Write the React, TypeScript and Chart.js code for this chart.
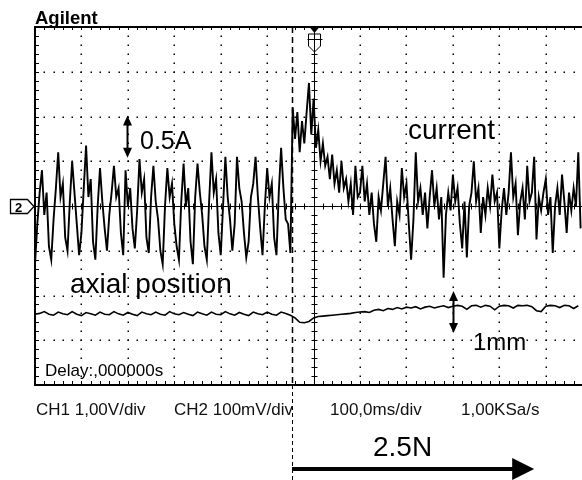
import React, { useEffect, useRef } from "react";
import { Chart, registerables } from "chart.js";

Chart.register(...registerables);

// ---------------- data ----------------
// time axis (ms, trigger at 0), 100 ms per division
const X_MIN = -600;
const X_MAX = 578;
const Y_MIN = -4;
const Y_MAX = 4;
const START_MS = -600;
const CURRENT_STEP_MS = 5;
const AXIAL_STEP_MS = 10;
const LOAD_STEP_MS = -46; // dashed marker: 2.5N load applied

// CH1 current trace (divisions), before the load step
const CURRENT_BEFORE = [
  -1.3, -0.4, 0.3, 0.8, -0.2, 0.3, -0.9, -1.2, -0.3, 0.4,
  1.2, 0.2, 0.5, -0.7, -1.0, 0.1, 1.0, 0.3, -0.4, -1.1,
  -0.6, 0.4, 1.35, 0.2, 0.6, -0.8, -1.2, 0.0, 0.85, 0.1,
  -0.5, -1.0, -0.2, 0.3, 0.9, 0.2, 0.4, -0.6, -1.1, 0.8,
  0.0, 0.4, -0.5, -0.95, -0.1, 1.05, 0.3, 0.6, -0.7, -1.05,
  0.2, 0.9, 0.1, -0.3, -1.0, -1.3, 0.0, 0.85, 0.2, 0.5,
  -0.4, -0.9, -1.2, 0.1, 0.95, 0.0, 0.4, -0.8, -1.3, 0.2,
  0.95, 0.3, -0.2, -0.9, -1.2, 0.1, 1.2, 0.3, 0.6, -0.6,
  -1.1, 0.0, 1.1, 0.2, -0.3, -1.0, -0.4, 1.1, 0.4, 0.1,
  -0.6, -1.15, -0.8, 0.2, 0.5, 1.1, 0.2, -0.5, -1.1, 0.0,
  0.85, 0.2, 0.5, -0.7, -1.1, 0.3, 1.3, 0.4, -0.3, -0.4, -1.05,
];

// CH1 current trace (divisions), after the load step
const CURRENT_AFTER = [
  2.2, 1.5, 2.1, 1.2, 1.9, 1.4, 2.1, 2.75, 1.6, 2.4,
  1.3, 1.7, 1.0, 1.4, 0.9, 1.1, 0.6, 1.15, 0.5, 0.8,
  0.3, 1.0, 0.4, 0.6, 0.1, 0.5, -0.2, 0.9, 0.2, 0.3,
  0.9, 0.1, 0.5, -0.2, 0.3, -0.4, -0.8, 0.2, -0.1, 0.5,
  1.1, 0.0, 0.4, -0.3, -0.9, 0.1, -0.2, 0.85, 0.2, 0.5,
  -0.4, -1.2, -0.3, 1.2, 0.1, 0.4, -0.2, 0.3, -0.5, 0.2,
  0.8, 0.0, 0.4, -0.3, 0.2, -1.6, -0.2, 0.3, -0.1, 0.7,
  0.1, 0.4, -0.4, -0.95, 0.1, -1.15, 0.0, 0.3, 1.0, 0.1,
  0.4, -0.6, 0.2, -0.2, 0.4, 0.0, 0.7, 0.1, 0.3, -0.95,
  -0.1, 0.4, -0.2, 0.3, 1.2, 0.2, 0.5, -0.65, 0.1, 0.4,
  -0.3, 0.9, 0.1, 0.3, 1.1, -0.75, 0.2, -0.1, 0.3, 0.6,
  -0.2, 0.2, -1.05, 0.0, 0.4, -0.2, 0.7, 0.1, -0.6, 0.3,
  -0.1, 0.4, 0.0, 1.2, -0.5,
];

// CH2 axial position trace (divisions), before the load step
const AXIAL_BEFORE = [
  -2.42, -2.40, -2.36, -2.42, -2.44, -2.37, -2.41, -2.43, -2.36, -2.42,
  -2.45, -2.38, -2.41, -2.44, -2.37, -2.42, -2.43, -2.36, -2.41, -2.44,
  -2.38, -2.42, -2.45, -2.37, -2.41, -2.43, -2.37, -2.42, -2.44, -2.36,
  -2.41, -2.43, -2.38, -2.42, -2.45, -2.37, -2.41, -2.44, -2.37, -2.42,
  -2.43, -2.36, -2.41, -2.44, -2.38, -2.42, -2.45, -2.37, -2.41, -2.43,
  -2.37, -2.42, -2.44, -2.37, -2.40, -2.44,
];

// CH2 axial position trace (divisions), after the load step
const AXIAL_AFTER = [
  -2.50, -2.60, -2.61, -2.58, -2.50, -2.47, -2.46, -2.45, -2.44, -2.43,
  -2.42, -2.41, -2.40, -2.38, -2.37, -2.36, -2.38, -2.33, -2.31, -2.34,
  -2.29, -2.31, -2.27, -2.30, -2.26, -2.28, -2.25, -2.30, -2.26, -2.24,
  -2.28, -2.25, -2.23, -2.27, -2.24, -2.22, -2.24, -2.31, -2.23, -2.22,
  -2.26, -2.22, -2.24, -2.32, -2.24, -2.22, -2.23, -2.28, -2.22, -2.23,
  -2.22, -2.25, -2.34, -2.36, -2.24, -2.22, -2.23, -2.27, -2.22, -2.23,
  -2.29, -2.23,
];

const X_DIVISIONS_MS = [-600, -500, -400, -300, -200, -100, 0, 100, 200, 300, 400, 500];
const Y_DIVISIONS = [-4, -3, -2, -1, 0, 1, 2, 3, 4];
const SETTINGS_LABELS = ["CH1 1,00V/div", "CH2 100mV/div", "100,0ms/div", "1,00KSa/s"];
const TRACE_LABELS = ["current", "axial position"];
const SCALE_LABELS = ["0.5A", "1mm", "2.5N"];

// ---------------- helpers ----------------
const FONT = '"Liberation Sans", Arial, Helvetica, sans-serif';

function toPoints(values: number[], start: number, step: number) {
  return values.map((v, i) => ({ x: start + i * step, y: v }));
}

const currentValues = [...CURRENT_BEFORE, ...CURRENT_AFTER];
const axialValues = [...AXIAL_BEFORE, ...AXIAL_AFTER];

function doubleArrow(ctx: CanvasRenderingContext2D, x: number, y1: number, y2: number) {
  const top = Math.min(y1, y2);
  const bot = Math.max(y1, y2);
  ctx.save();
  ctx.strokeStyle = "#000";
  ctx.fillStyle = "#000";
  ctx.lineWidth = 2;
  ctx.beginPath();
  ctx.moveTo(x, top + 6);
  ctx.lineTo(x, bot - 6);
  ctx.stroke();
  ctx.beginPath();
  ctx.moveTo(x, top);
  ctx.lineTo(x - 4.5, top + 10);
  ctx.lineTo(x + 4.5, top + 10);
  ctx.closePath();
  ctx.fill();
  ctx.beginPath();
  ctx.moveTo(x, bot);
  ctx.lineTo(x - 4.5, bot - 10);
  ctx.lineTo(x + 4.5, bot - 10);
  ctx.closePath();
  ctx.fill();
  ctx.restore();
}

const scopePlugin = {
  id: "scopeGraticule",
  beforeDatasetsDraw(chart: any) {
    const { ctx, chartArea: a } = chart;
    const xs = chart.scales.x;
    const ys = chart.scales.y;
    ctx.save();
    ctx.fillStyle = "#000";

    // dotted division lines
    for (const xv of X_DIVISIONS_MS) {
      if (xv === 0 || xv === X_MIN) continue;
      const px = Math.round(xs.getPixelForValue(xv));
      for (let k = 1; k < 40; k++) {
        const py = Math.round(ys.getPixelForValue(Y_MIN + k * 0.2));
        ctx.fillRect(px - 0.5, py - 0.5, 1.5, 1.5);
      }
    }
    for (const yv of Y_DIVISIONS) {
      if (yv === 0 || yv === Y_MIN || yv === Y_MAX) continue;
      const py = Math.round(ys.getPixelForValue(yv));
      for (let k = 1; X_MIN + k * 20 <= X_MAX; k++) {
        const px = Math.round(xs.getPixelForValue(X_MIN + k * 20));
        ctx.fillRect(px - 0.5, py - 0.5, 1.5, 1.5);
      }
    }

    // solid centre axes with minor ticks
    ctx.strokeStyle = "#000";
    ctx.lineWidth = 1;
    const cx = Math.round(xs.getPixelForValue(0)) + 0.5;
    const cy = Math.round(ys.getPixelForValue(0)) + 0.5;
    ctx.beginPath();
    ctx.moveTo(a.left, cy);
    ctx.lineTo(a.right, cy);
    ctx.moveTo(cx, a.top);
    ctx.lineTo(cx, a.bottom);
    for (let k = 1; X_MIN + k * 20 <= X_MAX; k++) {
      const px = Math.round(xs.getPixelForValue(X_MIN + k * 20)) + 0.5;
      ctx.moveTo(px, cy - 3);
      ctx.lineTo(px, cy + 3);
      ctx.moveTo(px, a.top);
      ctx.lineTo(px, a.top + 3);
      ctx.moveTo(px, a.bottom);
      ctx.lineTo(px, a.bottom - 4);
    }
    for (let k = 1; k < 40; k++) {
      const py = Math.round(ys.getPixelForValue(Y_MIN + k * 0.2)) + 0.5;
      ctx.moveTo(cx - 3, py);
      ctx.lineTo(cx + 3, py);
      ctx.moveTo(a.left, py);
      ctx.lineTo(a.left + 4, py);
    }
    ctx.stroke();

    // frame (left, top, bottom)
    ctx.lineWidth = 2;
    ctx.beginPath();
    ctx.moveTo(a.right, a.top);
    ctx.lineTo(a.left, a.top);
    ctx.lineTo(a.left, a.bottom);
    ctx.lineTo(a.right, a.bottom);
    ctx.stroke();

    // dashed load-step marker
    const dx = Math.round(xs.getPixelForValue(LOAD_STEP_MS)) + 0.5;
    ctx.lineWidth = 1.5;
    ctx.setLineDash([6, 4]);
    ctx.beginPath();
    ctx.moveTo(dx, a.top);
    ctx.lineTo(dx, a.bottom);
    ctx.stroke();
    ctx.lineWidth = 1;
    ctx.setLineDash([4, 3]);
    ctx.beginPath();
    ctx.moveTo(dx, a.bottom);
    ctx.lineTo(dx, chart.height);
    ctx.stroke();
    ctx.setLineDash([]);
    ctx.restore();
  },
  afterDatasetsDraw(chart: any) {
    const { ctx, chartArea: a } = chart;
    const xs = chart.scales.x;
    const ys = chart.scales.y;
    ctx.save();
    ctx.fillStyle = "#000";
    ctx.strokeStyle = "#000";
    ctx.textBaseline = "alphabetic";
    ctx.textAlign = "left";

    // trigger marker at top centre
    const cx = Math.round(xs.getPixelForValue(0)) + 0.5;
    ctx.beginPath();
    ctx.moveTo(cx - 5, a.top);
    ctx.lineTo(cx + 5, a.top);
    ctx.lineTo(cx, a.top + 6);
    ctx.closePath();
    ctx.fill();
    ctx.fillStyle = "#fff";
    ctx.lineWidth = 1;
    ctx.beginPath();
    ctx.moveTo(cx - 6, a.top + 7);
    ctx.lineTo(cx + 6, a.top + 7);
    ctx.lineTo(cx + 6, a.top + 19);
    ctx.lineTo(cx, a.top + 25);
    ctx.lineTo(cx - 6, a.top + 19);
    ctx.closePath();
    ctx.fill();
    ctx.stroke();
    ctx.beginPath();
    ctx.moveTo(cx - 7, a.top + 12.5);
    ctx.lineTo(cx + 8, a.top + 12.5);
    ctx.moveTo(cx, a.top + 7);
    ctx.lineTo(cx, a.top + 25);
    ctx.stroke();
    ctx.fillStyle = "#000";

    // channel 2 ground marker
    const cy = Math.round(ys.getPixelForValue(0)) + 0.5;
    ctx.fillStyle = "#fff";
    ctx.lineWidth = 1.3;
    ctx.beginPath();
    ctx.moveTo(10.5, cy - 7);
    ctx.lineTo(27.5, cy - 7);
    ctx.lineTo(34, cy);
    ctx.lineTo(27.5, cy + 7);
    ctx.lineTo(10.5, cy + 7);
    ctx.closePath();
    ctx.fill();
    ctx.stroke();
    ctx.fillStyle = "#000";
    ctx.font = `bold 13px ${FONT}`;
    ctx.fillText("2", 15, cy + 5);

    // brand
    ctx.font = `bold 18.5px ${FONT}`;
    ctx.fillText("Agilent", 35, 24);

    // trace labels
    ctx.font = `28px ${FONT}`;
    ctx.fillText(TRACE_LABELS[0], 408, 139);
    ctx.fillText(TRACE_LABELS[1], 70, 293);

    // scale labels with arrows
    ctx.font = `25px ${FONT}`;
    ctx.fillText(SCALE_LABELS[0], 140, 149);
    doubleArrow(ctx, Math.round(xs.getPixelForValue(-402)) + 0.5, ys.getPixelForValue(2.02), ys.getPixelForValue(1.08));
    ctx.font = `24px ${FONT}`;
    ctx.fillText(SCALE_LABELS[1], 473, 350);
    doubleArrow(ctx, Math.round(xs.getPixelForValue(300)) + 0.5, ys.getPixelForValue(-1.9), ys.getPixelForValue(-2.84));

    // delay readout
    ctx.font = `17px ${FONT}`;
    ctx.fillText("Delay:,000000s", 45, a.bottom - 9);

    // settings line below the screen
    ctx.fillStyle = "#111";
    ctx.font = `17px ${FONT}`;
    ctx.fillText(SETTINGS_LABELS[0], 36, 415);
    ctx.fillText(SETTINGS_LABELS[1], 174, 415);
    ctx.fillText(SETTINGS_LABELS[2], 330, 415);
    ctx.fillText(SETTINGS_LABELS[3], 461, 415);

    // 2.5N load arrow
    ctx.fillStyle = "#000";
    ctx.font = `28px ${FONT}`;
    ctx.fillText(SCALE_LABELS[2], 373, 456);
    const ax0 = Math.round(xs.getPixelForValue(LOAD_STEP_MS));
    const ax1 = xs.getPixelForValue(475);
    ctx.fillRect(ax0, 467, ax1 - 20 - ax0, 4);
    ctx.beginPath();
    ctx.moveTo(ax1 - 22, 458);
    ctx.lineTo(ax1, 469);
    ctx.lineTo(ax1 - 22, 480);
    ctx.closePath();
    ctx.fill();
    ctx.restore();
  },
};

export default function App() {
  const canvasRef = useRef<HTMLCanvasElement | null>(null);

  useEffect(() => {
    document.body.style.margin = "0";
    const canvas = canvasRef.current;
    if (!canvas) return;
    const chart = new Chart(canvas, {
      type: "line",
      data: {
        datasets: [
          {
            label: "current",
            data: toPoints(currentValues, START_MS, CURRENT_STEP_MS),
            borderColor: "#000",
            borderWidth: 1.9,
            pointRadius: 0,
            tension: 0,
          },
          {
            label: "axial position",
            data: toPoints(axialValues, START_MS, AXIAL_STEP_MS),
            borderColor: "#000",
            borderWidth: 1.6,
            pointRadius: 0,
            tension: 0,
          },
        ],
      },
      options: {
        animation: false,
        responsive: false,
        maintainAspectRatio: false,
        devicePixelRatio: 1,
        layout: { padding: { left: 35, top: 27, right: 0, bottom: 95 } },
        plugins: {
          legend: { display: false },
          tooltip: { enabled: false },
          title: { display: false },
        },
        scales: {
          x: { type: "linear", min: X_MIN, max: X_MAX, display: false },
          y: { type: "linear", min: Y_MIN, max: Y_MAX, display: false },
        },
      },
      plugins: [scopePlugin],
    });
    return () => chart.destroy();
  }, []);

  return (
    <div style={{ position: "fixed", left: 0, top: 0, width: 582, height: 480, background: "#fff" }}>
      <canvas ref={canvasRef} width={582} height={480} style={{ display: "block" }} />
    </div>
  );
}
